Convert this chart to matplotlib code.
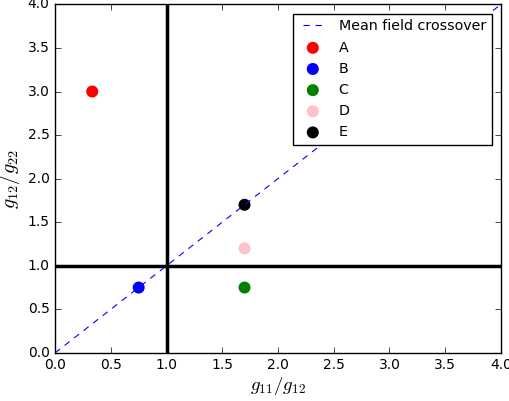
import matplotlib
matplotlib.use("Agg")
from matplotlib import pyplot as plt

plt.style.use("classic")

# data
labels = ["A", "B", "C", "D", "E"]
colors = ["red", "blue", "green", "pink", "black"]
x_vals = [1.0 / 3.0, 0.75, 1.7, 1.7, 1.7]
y_vals = [3.0, 0.75, 0.75, 1.2, 1.7]
line_x = [0.0, 4.0]
line_y = [0.0, 4.0]

fig = plt.figure(figsize=(5.1, 4.01), dpi=100, facecolor="white")
ax = fig.add_axes([0.108, 0.12, 0.874, 0.869])

ax.plot(line_x, line_y, color="blue", ls="--", dashes=(4.5, 4.2), lw=0.8,
        zorder=3, label="Mean field crossover")
for xv, yv, c, lab in zip(x_vals, y_vals, colors, labels):
  ax.scatter([xv], [yv], s=75, color=c, edgecolors="none", label=lab, zorder=2)

ax.axhline(1.0, color="black", lw=2.5, zorder=1)
ax.axvline(1.0, color="black", lw=2.5, zorder=1)

ax.set_xlim(0, 4)
ax.set_ylim(0, 4)
ax.tick_params(labelsize=10)
ax.set_xlabel("$g_{11}/g_{12}$", fontsize=13.5, labelpad=2)
ax.set_ylabel("$g_{12}/g_{22}$", fontsize=14.5, labelpad=4)
ax.legend(loc="upper right", scatterpoints=1, numpoints=2, fontsize=10.3,
          fancybox=False, handlelength=2.0, handletextpad=0.8,
          labelspacing=0.5, borderaxespad=0.65)

fig.savefig("out.png", dpi=100, facecolor="white")
